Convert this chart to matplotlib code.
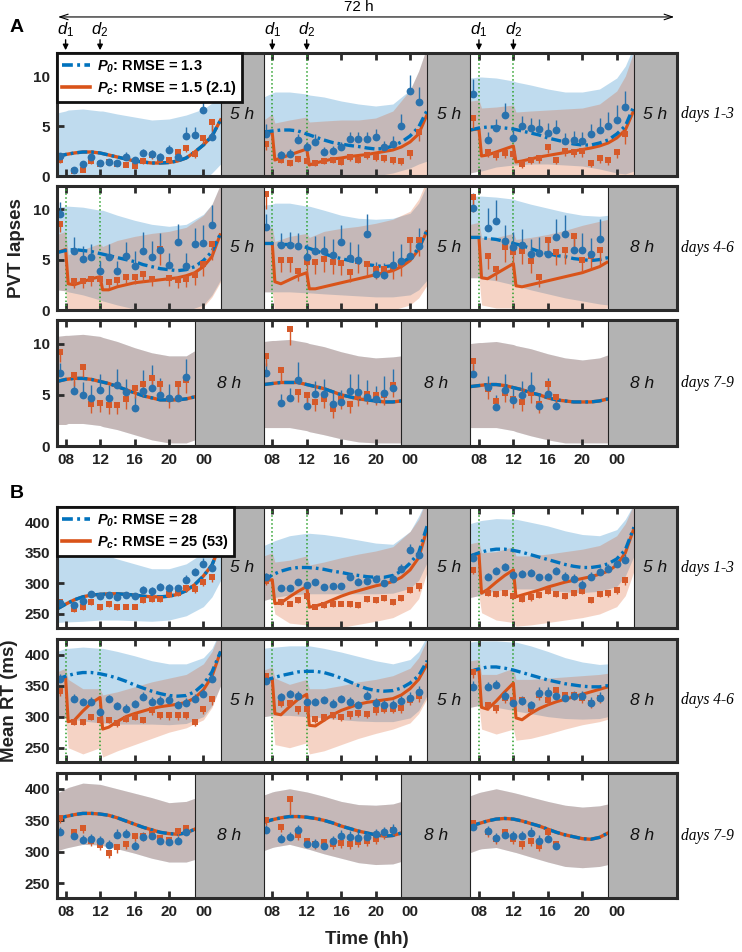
import numpy as np
import matplotlib
matplotlib.use("Agg")
from matplotlib import pyplot as plt
from matplotlib.lines import Line2D

plt.rcParams['font.family'] = ['Liberation Sans', 'DejaVu Sans']
plt.rcParams['mathtext.fontset'] = 'custom'
plt.rcParams['mathtext.rm'] = 'Liberation Sans'
plt.rcParams['mathtext.it'] = 'Liberation Sans:italic'
plt.rcParams['mathtext.bf'] = 'Liberation Sans:bold'
plt.rcParams['mathtext.bfit'] = 'Liberation Sans:bold:italic'

# ---------------- data ----------------
# hours after 07:00 wake-up
obs_hours = [0.3, 2, 3, 4, 5, 6, 7, 8, 9, 10, 11, 12, 13, 14, 15, 16, 17, 18]
model_hours = [0, 1, 2, 3, 4, 5, 6, 7, 8, 9, 10, 11, 12, 13, 14, 15, 16, 17, 18, 19]
pc_hours = [0, 1, 1.3, 2, 3, 4, 5, 5.3, 6, 7, 8, 9, 10, 11, 12, 13, 14, 15, 16, 17, 18, 19]
band_hours_5 = [0, 1, 1.3, 3, 5, 5.3, 7, 9, 11, 13, 15, 17, 18, 19]
band_hours_8 = [0, 1, 1.3, 3, 5, 5.3, 7, 9, 11, 13, 15, 16]
dose_hours = [1, 5]

sleep_hours = [5, 5, 5, 5, 5, 8, 8, 8, 8]
caffeine_day = [False, True, True, True, True, True, False, False, False]
xtick_labels = ['08', '12', '16', '20', '00']
row_labels = ['days 1-3', 'days 4-6', 'days 7-9']

# ---- panel A: PVT lapses ----
a_blue = [
    [2.0, 0.6, 1.2, 1.9, 1.3, 1.4, 1.3, 1.9, 1.6, 2.3, 2.2, 1.9, 2.6, 1.9, 4.0, 4.1, 6.6, 3.9],
    [4.2, 2.1, 2.2, 3.6, 2.9, 3.4, 2.4, 2.5, 2.9, 3.7, 3.7, 3.7, 3.9, 2.9, 3.2, 5.0, 8.5, 7.4],
    [8.2, 3.6, 4.8, 6.1, 3.8, 5.0, 4.8, 4.7, 4.3, 4.6, 3.5, 3.6, 3.5, 4.2, 4.6, 5.0, 5.6, 6.9],
    [9.5, 5.9, 5.1, 5.3, 3.9, 5.3, 3.9, 5.4, 4.4, 5.9, 5.3, 6.0, 4.5, 6.7, 4.4, 6.5, 6.6, 8.4],
    [8.2, 6.4, 6.4, 6.3, 5.3, 5.9, 5.9, 5.5, 6.7, 5.2, 5.0, 7.5, 3.6, 3.5, 4.5, 4.9, 5.4, 6.3],
    [10.1, 8.1, 8.8, 6.8, 6.2, 6.4, 5.6, 5.7, 5.6, 7.2, 7.5, 6.0, 6.0, 5.6, 7.0],
    [7.1, 5.4, 5.0, 4.7, 5.5, 4.7, 6.0, 5.3, 3.7, 5.4, 5.7, 5.0, 4.7, 4.7, 6.7],
    [7.1, 4.2, 4.7, 6.4, 3.9, 5.1, 5.1, 4.1, 4.3, 5.4, 5.3, 4.8, 4.6, 5.2, 5.7],
    [7.0, 5.8, 3.8, 5.5, 4.5, 5.0, 5.7, 3.9, 5.1, 3.9],
]
a_blue_err = [
    [0.3, 0.2, 0.3, 0.4, 0.3, 0.3, 0.3, 0.5, 0.3, 0.4, 0.4, 0.4, 0.5, 0.4, 0.9, 0.8, 1.9, 1.2],
    [1.0, 0.4, 0.5, 0.6, 0.5, 0.8, 0.5, 0.5, 0.5, 0.7, 0.7, 0.7, 0.8, 0.6, 0.8, 1.2, 1.6, 1.5],
    [1.5, 0.8, 0.9, 1.2, 0.9, 1.0, 1.0, 1.0, 1.0, 1.0, 0.8, 0.9, 0.9, 1.0, 1.2, 1.4, 1.5, 1.6],
    [1.2, 1.3, 1.2, 1.2, 1.0, 1.2, 1.0, 1.3, 1.5, 1.8, 1.5, 1.6, 1.2, 1.8, 1.3, 1.6, 1.8, 2.0],
    [1.3, 1.2, 1.3, 1.3, 1.2, 1.4, 1.4, 1.5, 1.7, 1.5, 1.5, 2.0, 1.2, 1.2, 1.4, 1.6, 1.7, 1.8],
    [1.5, 2.0, 2.1, 1.6, 1.5, 1.6, 1.4, 1.5, 1.5, 1.8, 1.9, 1.6, 1.6, 1.5, 2.0],
    [1.0, 0.9, 1.2, 1.3, 1.5, 1.3, 1.5, 1.2, 1.2, 2.0, 2.2, 1.6, 1.4, 1.3, 1.8],
    [1.0, 0.9, 1.0, 1.8, 1.0, 1.2, 1.4, 1.2, 1.2, 1.6, 1.7, 1.6, 1.3, 1.6, 1.8],
    [1.0, 1.0, 1.2, 1.5, 1.3, 1.3, 1.5, 1.2, 1.5, 1.0],
]
a_orange = [
    [1.6, 0.5, 0.6, 1.5, 1.2, 1.4, 1.2, 1.1, 1.0, 1.5, 2.1, 1.6, 1.6, 2.4, 2.8, 2.2, 3.8, 5.4],
    [3.2, 1.6, 1.3, 1.7, 1.5, 1.3, 1.5, 1.6, 1.4, 1.9, 1.6, 2.1, 1.9, 1.8, 1.6, 1.5, 2.3, 4.4],
    [5.8, 2.4, 2.1, 2.3, 2.2, 1.2, 1.6, 1.8, 2.9, 1.6, 2.5, 2.4, 2.5, 1.3, 1.8, 1.6, 2.4, 4.2],
    [8.5, 2.9, 2.9, 3.1, 3.1, 2.8, 3.0, 3.3, 3.3, 3.6, 3.1, 6.1, 3.2, 3.0, 3.1, 3.5, 4.6, 6.5],
    [11.5, 5.0, 5.0, 3.9, 4.8, 4.8, 5.1, 4.8, 4.7, 3.8, 4.9, 4.6, 4.1, 4.1, 4.3, 4.6, 6.9, 6.9],
    [11.2, 5.4, 4.1, 6.2, 5.8, 5.9, 4.9, 3.3, 6.9, 5.8, 6.0, 7.3, 5.0, 5.4, 6.0],
    [9.2, 6.9, 7.7, 4.1, 4.2, 4.0, 4.0, 4.6, 5.7, 6.1, 6.6, 6.1, 4.6, 6.1, 6.4],
    [8.8, 7.4, 11.4, 5.3, 5.0, 4.3, 4.6, 3.6, 4.6, 4.1, 4.9, 5.1, 5.0, 5.0, 6.0],
    [8.3, 5.6, 4.4, 5.2, 4.6, 4.3, 5.2, 4.1, 6.1, 4.8],
]
a_orange_err = [
    [0.3, 0.2, 0.2, 0.3, 0.2, 0.3, 0.2, 0.2, 0.2, 0.3, 0.4, 0.3, 0.3, 0.5, 0.4, 0.4, 0.6, 0.9],
    [0.6, 0.3, 0.3, 0.3, 0.3, 0.3, 0.3, 0.3, 0.3, 0.4, 0.3, 0.4, 0.4, 0.4, 0.4, 0.4, 0.6, 0.9],
    [1.0, 0.5, 0.5, 0.5, 0.5, 0.4, 0.4, 0.5, 0.6, 0.4, 0.5, 0.5, 0.6, 0.4, 0.5, 0.5, 0.6, 1.0],
    [0.8, 0.7, 0.7, 0.7, 0.6, 0.7, 0.6, 0.7, 0.7, 0.8, 0.7, 1.6, 0.8, 0.8, 0.8, 1.0, 1.2, 1.5],
    [1.5, 1.2, 1.2, 1.0, 1.2, 1.2, 1.3, 1.2, 1.2, 1.0, 1.2, 1.2, 1.0, 1.0, 1.2, 1.2, 1.5, 1.5],
    [1.5, 1.3, 1.1, 1.4, 1.3, 1.3, 1.2, 1.0, 1.5, 1.3, 1.4, 1.5, 1.2, 1.3, 1.5],
    [1.0, 1.0, 1.0, 0.9, 0.9, 0.9, 0.9, 1.0, 1.0, 1.2, 1.2, 1.1, 0.9, 1.1, 1.2],
    [1.0, 1.2, 1.5, 1.0, 1.0, 0.9, 0.9, 0.9, 1.0, 0.9, 1.0, 1.0, 1.0, 1.0, 1.2],
    [1.0, 1.0, 0.9, 0.9, 0.9, 0.9, 1.0, 0.9, 1.0, 0.9],
]
a_p0 = [
    [1.95, 2.15, 2.3, 2.4, 2.4, 2.3, 2.1, 1.9, 1.7, 1.5, 1.4, 1.3, 1.3, 1.35, 1.5, 1.8, 2.4, 3.1, 4.0, 5.6],
    [4.4, 4.5, 4.6, 4.6, 4.5, 4.2, 3.9, 3.6, 3.35, 3.2, 3.05, 2.95, 2.8, 2.7, 2.75, 3.0, 3.4, 4.0, 4.9, 6.6],
    [4.6, 4.8, 4.9, 4.9, 4.8, 4.7, 4.5, 4.3, 4.1, 3.8, 3.6, 3.4, 3.2, 3.1, 3.1, 3.3, 3.6, 4.2, 5.0, 7.0],
    [5.7, 5.9, 6.0, 5.9, 5.8, 5.6, 5.4, 5.2, 5.0, 4.8, 4.5, 4.3, 4.1, 4.0, 3.9, 4.0, 4.3, 4.9, 5.8, 7.6],
    [6.6, 6.6, 6.5, 6.5, 6.4, 6.2, 5.9, 5.6, 5.3, 5.1, 4.9, 4.7, 4.5, 4.4, 4.3, 4.4, 4.7, 5.2, 6.1, 8.0],
    [7.2, 7.2, 7.1, 7.0, 6.8, 6.6, 6.4, 6.1, 5.8, 5.6, 5.4, 5.3, 5.1, 5.0, 4.9, 5.0, 5.2],
    [6.3, 6.5, 6.6, 6.6, 6.5, 6.3, 6.1, 5.8, 5.5, 5.2, 4.9, 4.7, 4.5, 4.5, 4.5, 4.6, 4.8],
    [6.0, 6.1, 6.2, 6.2, 6.2, 6.0, 5.8, 5.6, 5.3, 5.0, 4.8, 4.6, 4.5, 4.4, 4.3, 4.3, 4.4],
    [5.8, 5.9, 6.0, 6.0, 5.9, 5.7, 5.5, 5.2, 5.0, 4.7, 4.5, 4.4, 4.3, 4.3, 4.3, 4.4, 4.6],
]
a_pc = [
    None,
    [4.4, 4.3, 1.6, 1.8, 2.1, 2.4, 2.7, 1.1, 1.3, 1.5, 1.7, 1.8, 1.95, 2.05, 2.15, 2.3, 2.45, 2.6, 2.9, 3.4, 4.2, 6.2],
    [4.6, 4.7, 2.0, 2.1, 2.4, 2.7, 3.0, 1.4, 1.5, 1.7, 1.9, 2.05, 2.2, 2.35, 2.5, 2.65, 2.8, 3.0, 3.3, 3.8, 4.6, 6.6],
    [5.7, 6.0, 2.6, 2.5, 2.8, 3.1, 3.3, 2.0, 2.0, 2.3, 2.5, 2.7, 2.8, 2.9, 3.0, 3.1, 3.2, 3.4, 3.7, 4.3, 5.3, 7.6],
    [6.6, 6.6, 2.8, 2.6, 3.0, 3.4, 3.7, 2.1, 2.1, 2.3, 2.5, 2.7, 2.9, 3.1, 3.3, 3.5, 3.7, 3.9, 4.3, 4.9, 6.0, 7.9],
    [7.2, 7.2, 3.2, 3.1, 3.6, 4.1, 4.6, 2.4, 2.3, 2.5, 2.7, 2.9, 3.1, 3.3, 3.5, 3.7, 4.0, 4.3, 4.8],
    None, None, None,
]
a_p0_hi = [
    [6.3, 6.5, 6.6, 6.7, 6.5, 6.5, 6.2, 5.9, 5.6, 5.7, 6.1, 6.7, 7.3, 8.0],
    [7.9, 8.3, 8.4, 8.4, 8.2, 8.1, 7.9, 7.5, 7.2, 7.0, 7.2, 8.6, 10.5, 13.0],
    [9.8, 9.9, 9.9, 9.8, 9.5, 9.4, 9.1, 8.7, 8.4, 8.4, 8.7, 9.8, 11.0, 13.0],
    [10.2, 10.3, 10.3, 10.2, 9.9, 9.9, 9.4, 8.9, 8.5, 8.3, 8.5, 9.5, 10.5, 12.5],
    [10.4, 10.5, 10.6, 10.6, 10.3, 10.3, 9.9, 9.4, 9.1, 9.0, 9.1, 9.6, 10.6, 12.5],
    [11.3, 11.3, 11.3, 11.2, 11.0, 10.9, 10.5, 10.1, 9.7, 9.4, 9.3, 9.4],
    [10.7, 10.8, 10.8, 10.9, 10.7, 10.6, 10.2, 9.6, 9.1, 8.8, 8.8, 9.3],
    [10.2, 10.3, 10.3, 10.4, 10.1, 10.0, 9.7, 9.2, 8.8, 8.6, 8.7, 8.8],
    [10.0, 10.1, 10.1, 10.2, 9.9, 9.8, 9.5, 9.0, 8.6, 8.4, 8.6, 8.9],
]
a_p0_lo = [
    [-2, -2, -2, -2, -2, -2, -2, -2, -2, -2, -1.5, -0.5, 0.3, 1.2],
    [-0.5, -0.5, -0.5, -0.4, -0.3, -0.3, -0.3, -0.2, -0.1, 0.0, 0.3, 0.8, 1.2, 1.5],
    [0.3, 0.5, 0.5, 0.9, 1.1, 1.1, 1.2, 1.2, 1.1, 1.0, 0.7, 0.3, 0.2, 0.5],
    [2.0, 1.9, 1.8, 1.5, 1.0, 0.9, 0.5, 0.1, -0.2, -0.2, -0.1, 0.5, 1.5, 3.0],
    [1.8, 1.8, 1.8, 1.8, 1.7, 1.7, 1.6, 1.5, 1.4, 1.3, 1.3, 1.5, 2.0, 3.0],
    [3.2, 3.2, 3.1, 2.9, 2.5, 2.4, 2.0, 1.6, 1.2, 0.9, 0.6, 0.5],
    [2.1, 2.1, 2.2, 2.2, 2.0, 1.9, 1.6, 1.1, 0.6, 0.3, 0.3, 0.6],
    [1.8, 1.8, 1.8, 1.8, 1.5, 1.4, 1.1, 0.7, 0.4, 0.3, 0.3, 0.3],
    [1.8, 1.8, 1.8, 1.8, 1.5, 1.4, 1.0, 0.6, 0.3, 0.3, 0.3, 0.3],
]
a_pc_hi = [
    None,
    [5.6, 6.2, 5.3, 5.6, 5.9, 5.4, 5.5, 5.6, 5.6, 5.8, 6.5, 8.6, 10.5, 13.0],
    [7.5, 7.6, 6.8, 6.9, 7.1, 6.4, 6.5, 6.6, 6.7, 6.8, 7.2, 8.5, 10.0, 12.5],
    [7.5, 7.8, 5.5, 6.0, 6.6, 6.3, 6.9, 7.3, 7.6, 7.8, 8.2, 9.4, 10.5, 12.5],
    [8.0, 8.2, 6.8, 7.3, 7.6, 7.2, 7.8, 8.1, 8.3, 8.6, 9.0, 9.8, 11.0, 13.0],
    [8.5, 8.7, 7.2, 7.2, 7.6, 7.0, 7.2, 7.5, 7.9, 8.4, 8.8, 9.0],
    None, None, None,
]
a_pc_lo = [
    None,
    [-0.5, -0.5, -2.0, -2.0, -2.0, -2.5, -2.5, -2.5, -2.3, -2.0, -1.5, -1.0, -0.5, 0.0],
    [0.3, 0.5, -1.5, -2.0, -2.0, -2.5, -2.5, -2.3, -2.0, -1.8, -1.5, -1.0, -0.5, 0.0],
    [2.0, 1.9, -0.5, -0.8, -0.8, -1.5, -1.5, -1.3, -1.1, -0.9, -0.5, 0.3, 1.3, 2.8],
    [1.8, 1.8, -0.5, -0.8, -0.8, -1.5, -1.3, -1.0, -0.7, -0.4, 0.0, 0.5, 1.2, 2.5],
    [3.2, 3.2, 0.5, 0.2, 0.2, -0.5, -0.5, -0.3, -0.2, 0.0, 0.1, 0.2],
    None, None, None,
]

# ---- panel B: mean RT (ms) ----
b_blue = [
    [268, 265, 272, 282, 279, 281, 277, 281, 279, 290, 288, 294, 293, 292, 306, 318, 332, 325],
    [311, 293, 292, 302, 297, 302, 294, 296, 295, 310, 303, 304, 307, 300, 308, 324, 354, 346],
    [342, 311, 321, 327, 314, 316, 317, 310, 311, 320, 311, 308, 298, 311, 318, 324, 331, 339],
    [360, 329, 323, 324, 308, 328, 317, 313, 320, 331, 324, 326, 327, 318, 322, 328, 336, 360],
    [358, 331, 336, 334, 323, 323, 327, 321, 328, 323, 318, 334, 322, 319, 319, 325, 330, 340],
    [348, 348, 351, 334, 322, 326, 318, 338, 338, 333, 330, 333, 333, 322, 330],
    [332, 325, 319, 320, 318, 311, 327, 328, 310, 323, 326, 318, 315, 317, 331],
    [335, 320, 323, 334, 312, 312, 310, 318, 326, 324, 322, 323, 328, 331, 335],
    [340, 333, 322, 327, 325, 325, 330, 318, 320, 309],
]
b_blue_err = [
    [5, 5, 5, 6, 5, 5, 5, 5, 5, 6, 6, 6, 6, 6, 7, 8, 10, 9],
    [6, 5, 5, 6, 5, 6, 5, 5, 5, 6, 6, 6, 7, 6, 7, 8, 10, 9],
    [8, 6, 6, 7, 6, 6, 6, 6, 6, 7, 7, 7, 7, 7, 7, 8, 8, 9],
    [8, 7, 7, 7, 6, 7, 7, 7, 7, 8, 8, 8, 8, 8, 8, 8, 9, 10],
    [8, 7, 7, 7, 6, 7, 7, 7, 7, 8, 8, 8, 8, 8, 8, 8, 9, 10],
    [9, 8, 8, 8, 8, 8, 8, 9, 9, 9, 9, 9, 9, 9, 9],
    [8, 8, 8, 8, 8, 8, 9, 9, 8, 9, 9, 9, 9, 9, 10],
    [8, 8, 8, 8, 8, 8, 8, 8, 9, 9, 9, 9, 9, 9, 10],
    [8, 8, 8, 8, 8, 8, 9, 9, 9, 9],
]
b_orange = [
    [270, 258, 261, 269, 261, 266, 261, 262, 262, 273, 274, 274, 283, 285, 292, 291, 303, 310],
    [304, 269, 267, 273, 280, 262, 264, 266, 267, 266, 264, 274, 273, 276, 269, 276, 290, 295],
    [322, 285, 283, 285, 280, 275, 277, 281, 288, 283, 279, 285, 287, 273, 282, 284, 289, 305],
    [342, 292, 292, 300, 295, 295, 290, 297, 300, 295, 310, 303, 302, 302, 303, 292, 312, 328],
    [365, 322, 322, 312, 312, 296, 300, 303, 300, 304, 306, 305, 310, 313, 313, 314, 327, 333],
    [372, 319, 314, 330, 327, 327, 312, 335, 327, 343, 335, 335, 330, 322, 330],
    [354, 332, 338, 318, 311, 299, 307, 312, 326, 326, 328, 322, 319, 333, 338],
    [351, 339, 384, 327, 318, 313, 315, 312, 314, 312, 315, 318, 320, 328, 335],
    [346, 331, 320, 331, 320, 312, 318, 310, 331, 313],
]
b_orange_err = [
    [5, 4, 4, 5, 4, 4, 4, 4, 4, 5, 5, 5, 5, 5, 6, 6, 7, 8],
    [6, 4, 4, 5, 5, 4, 4, 4, 4, 5, 5, 5, 5, 5, 5, 5, 6, 7],
    [7, 5, 5, 5, 5, 5, 5, 5, 5, 5, 5, 5, 5, 5, 5, 6, 6, 7],
    [8, 6, 6, 6, 6, 6, 6, 6, 6, 6, 7, 7, 7, 7, 7, 7, 8, 9],
    [9, 7, 7, 7, 7, 7, 7, 7, 7, 7, 7, 7, 7, 7, 7, 8, 8, 9],
    [9, 8, 8, 8, 8, 8, 8, 8, 8, 8, 8, 8, 8, 8, 8],
    [8, 8, 8, 8, 8, 8, 8, 8, 8, 8, 8, 8, 8, 8, 8],
    [8, 8, 25, 8, 8, 8, 8, 8, 8, 8, 8, 8, 8, 8, 8],
    [8, 8, 8, 8, 8, 8, 8, 8, 8, 8],
]
b_p0 = [
    [258, 266, 273, 278, 281, 282, 283, 283, 282, 281, 279, 278, 278, 279, 282, 288, 298, 312, 330, 365],
    [304, 314, 320, 324, 326, 326, 325, 323, 320, 318, 315, 313, 311, 310, 310, 313, 320, 333, 350, 395],
    [345, 350, 354, 356, 356, 354, 351, 347, 343, 339, 335, 331, 328, 326, 326, 328, 332, 340, 355, 392],
    [360, 365, 369, 371, 371, 369, 366, 362, 357, 351, 346, 341, 337, 334, 333, 334, 340, 352, 372, 405],
    [358, 362, 366, 369, 372, 373, 373, 371, 367, 362, 356, 350, 345, 342, 341, 342, 346, 354, 366, 390],
    [373, 377, 380, 380, 378, 375, 371, 367, 363, 359, 356, 353, 351, 349, 348, 348, 350],
    [352, 356, 359, 361, 361, 360, 358, 354, 349, 344, 339, 335, 331, 329, 328, 330, 336],
    [347, 351, 354, 356, 356, 355, 353, 350, 346, 341, 337, 333, 330, 327, 325, 326, 330],
    [341, 345, 349, 352, 353, 352, 349, 345, 341, 336, 331, 327, 324, 321, 320, 323, 330],
]
b_pc = [
    None,
    [304, 306, 267, 268, 278, 287, 295, 261, 263, 267, 273, 279, 284, 288, 292, 296, 299, 303, 310, 322, 342, 390],
    [345, 349, 284, 290, 302, 313, 322, 278, 281, 285, 289, 294, 298, 302, 305, 308, 311, 315, 320, 330, 350, 390],
    [360, 363, 292, 294, 309, 322, 331, 280, 283, 292, 300, 305, 309, 313, 316, 318, 320, 323, 330, 343, 365, 405],
    [358, 361, 305, 303, 316, 328, 336, 286, 285, 294, 303, 310, 315, 320, 323, 325, 327, 329, 335, 345, 360, 385],
    [373, 376, 315, 312, 325, 340, 354, 298, 295, 305, 313, 319, 324, 328, 332, 336, 340, 344, 348],
    None, None, None,
]
b_p0_hi = [
    [345, 348, 349, 350, 348, 348, 340, 332, 324, 324, 332, 350, 362, 385],
    [362, 368, 370, 378, 382, 382, 380, 376, 371, 366, 364, 385, 410, 440],
    [398, 402, 403, 406, 405, 405, 400, 394, 386, 380, 378, 388, 405, 430],
    [405, 410, 410, 412, 410, 410, 405, 398, 390, 385, 385, 395, 410, 440],
    [410, 412, 412, 414, 414, 414, 410, 404, 397, 390, 385, 392, 405, 430],
    [420, 422, 422, 422, 420, 420, 414, 405, 395, 388, 384, 385],
    [393, 400, 402, 409, 407, 406, 400, 393, 386, 378, 380, 385],
    [390, 395, 396, 400, 395, 394, 388, 380, 375, 374, 376, 380],
    [389, 394, 395, 400, 394, 393, 387, 380, 374, 371, 373, 376],
]
b_p0_lo = [
    [236, 237, 237, 238, 240, 240, 240, 239, 238, 240, 247, 262, 278, 305],
    [272, 276, 277, 281, 283, 283, 283, 283, 283, 283, 284, 292, 305, 335],
    [277, 280, 282, 288, 291, 291, 291, 289, 286, 285, 287, 295, 312, 345],
    [300, 298, 297, 293, 290, 290, 288, 288, 288, 287, 289, 300, 318, 350],
    [300, 302, 302, 302, 300, 300, 298, 295, 293, 292, 292, 298, 310, 335],
    [315, 318, 318, 315, 310, 309, 305, 300, 297, 296, 297, 300],
    [302, 306, 307, 312, 311, 310, 305, 298, 290, 284, 284, 288],
    [302, 307, 308, 312, 305, 304, 297, 290, 283, 280, 281, 285],
    [299, 304, 305, 307, 300, 299, 292, 284, 277, 275, 277, 280],
]
b_pc_hi = [
    None,
    [345, 350, 335, 338, 345, 330, 335, 342, 348, 353, 360, 385, 405, 440],
    [365, 368, 350, 352, 360, 345, 345, 348, 352, 356, 362, 378, 398, 430],
    [372, 378, 360, 345, 345, 335, 340, 348, 356, 362, 368, 385, 405, 440],
    [375, 380, 362, 352, 360, 345, 345, 350, 356, 360, 366, 378, 395, 425],
    [390, 392, 368, 368, 378, 360, 360, 362, 364, 366, 368, 370],
    None, None, None,
]
b_pc_lo = [
    None,
    [272, 276, 250, 235, 232, 225, 225, 228, 233, 238, 244, 258, 275, 320],
    [277, 280, 252, 240, 236, 230, 232, 236, 240, 244, 250, 262, 280, 320],
    [300, 298, 250, 240, 250, 235, 245, 255, 265, 275, 282, 295, 315, 350],
    [300, 302, 255, 250, 258, 240, 245, 255, 265, 273, 280, 290, 305, 330],
    [315, 318, 280, 272, 280, 262, 265, 272, 280, 287, 292, 296],
    None, None, None,
]

# ---------------- style ----------------
BLUE = '#0072BD'
ORANGE = '#D95319'
BLUE_PT = '#2a72ad'
ORANGE_PT = '#d65a2a'
SLEEP_GRAY = '#b3b3b3'
SPINE = '#2b2b2b'

fig = plt.figure(figsize=(7.42, 9.52), dpi=100)
H = 952.0
W = 742.0
left = 57 / W
width = 620 / W
rows_px = [(53, 176), (186, 310), (320, 446), (507, 628), (639, 762), (773, 898)]
axs = []
for top, bot in rows_px:
    axs.append(fig.add_axes([left, 1 - bot / H, width, (bot - top) / H]))
axes_a = axs[:3]
axes_b = axs[3:]

xticks = [d * 24 + h for d in range(3) for h in [1, 5, 9, 13, 17]]


def style_axis(ax, ylim, yticks, bottom_labels):
    ax.set_xlim(0, 72)
    ax.set_ylim(*ylim)
    ax.set_xticks(xticks)
    ax.set_xticklabels(xtick_labels * 3)
    ax.set_yticks(yticks)
    ax.tick_params(axis='both', direction='in', top=True, right=True,
                   length=5, width=2, color=SPINE, labelsize=11, pad=5)
    ax.tick_params(axis='x', labelbottom=bottom_labels)
    for lab in ax.get_xticklabels() + ax.get_yticklabels():
        lab.set_fontweight('bold')
        lab.set_color('#222222')
    for sp in ax.spines.values():
        sp.set_linewidth(2.2)
        sp.set_color(SPINE)
        sp.set_zorder(20)


def draw_panel(axes, blue, blue_err, orange, orange_err, p0, pc,
               p0_lo, p0_hi, pc_lo, pc_hi):
    for i in range(9):
        ax = axes[i // 3]
        off = 24 * (i % 3)
        sleep = sleep_hours[i]
        awake = 24 - sleep
        mt = [off + h for h in model_hours if h <= awake]
        bh = band_hours_5 if awake == 19 else band_hours_8
        bt = [off + h for h in bh]

        # prediction bands
        ax.fill_between(bt, p0_lo[i], p0_hi[i], color=BLUE, alpha=0.25, lw=0, zorder=1)
        if pc_hi[i] is not None:
            ax.fill_between(bt, pc_lo[i], pc_hi[i], color=ORANGE, alpha=0.25, lw=0, zorder=1)
        elif i > 0:
            ax.fill_between(bt, p0_lo[i], p0_hi[i], color=ORANGE, alpha=0.25, lw=0, zorder=1)

        # caffeine doses
        if caffeine_day[i]:
            for h in dose_hours:
                ax.axvline(off + h, color='#2ca02c', lw=1.1, ls=(0, (1, 1.6)), zorder=2)

        # model lines
        if pc[i] is not None:
            ct = [off + h for h in pc_hours if h <= awake]
            ax.plot(ct, pc[i], color=ORANGE, lw=2.2, zorder=3, solid_capstyle='butt')
        else:
            ax.plot(mt, p0[i], color=ORANGE, lw=2.4, zorder=3)
        ax.plot(mt, p0[i], color=BLUE, lw=2.4, ls=(0, (3.0, 1.2, 0.8, 1.2)), zorder=3.5)

        # observations
        ot = [off + h for h in obs_hours[:len(blue[i])]]
        bv = np.array(blue[i])
        ov = np.array(orange[i])
        ax.vlines(ot, bv, bv + np.array(blue_err[i]), color=BLUE_PT, lw=1.0, zorder=4)
        ax.vlines(ot, ov - np.array(orange_err[i]), ov, color=ORANGE_PT, lw=1.0, zorder=4)
        ax.plot(ot, ov, 's', color=ORANGE_PT, ms=4.6, mew=0, zorder=5)
        ax.plot(ot, bv, 'o', color=BLUE_PT, ms=5.6, mew=0, zorder=5)

        # sleep period
        ax.axvspan(off + awake, off + 24, color=SLEEP_GRAY, lw=0, zorder=6)
        ax.axvline(off + awake, color='#222222', lw=0.8, zorder=6.5)
        ax.axvline(off + 24, color='#222222', lw=0.8, zorder=6.5)
        ax.text(off + awake + sleep / 2, 0.5, f'{sleep} h', transform=ax.get_xaxis_transform(),
                ha='center', va='center', fontsize=12.5, fontstyle='italic', color='#111111', zorder=7)


draw_panel(axes_a, a_blue, a_blue_err, a_orange, a_orange_err, a_p0, a_pc,
           a_p0_lo, a_p0_hi, a_pc_lo, a_pc_hi)
draw_panel(axes_b, b_blue, b_blue_err, b_orange, b_orange_err, b_p0, b_pc,
           b_p0_lo, b_p0_hi, b_pc_lo, b_pc_hi)

for k, ax in enumerate(axes_a):
    style_axis(ax, (0, 12.3), [0, 5, 10], k == 2)
for k, ax in enumerate(axes_b):
    style_axis(ax, (227, 425), [250, 300, 350, 400], k == 2)

for ax, lab in zip(axes_a + axes_b, row_labels + row_labels):
    ax.text(1.006, 0.5, lab, transform=ax.transAxes, ha='left', va='center',
            family='Liberation Serif', fontstyle='italic', fontsize=11.2)

# legends
legend_a = [r'$\mathbfit{P}_{\mathbfit{0}}$: RMSE = 1.3', r'$\mathbfit{P}_{\mathbfit{c}}$: RMSE = 1.5 (2.1)']
legend_b = [r'$\mathbfit{P}_{\mathbfit{0}}$: RMSE = 28', r'$\mathbfit{P}_{\mathbfit{c}}$: RMSE = 25 (53)']
for ax, labels in [(axes_a[0], legend_a), (axes_b[0], legend_b)]:
    handles = [Line2D([], [], color=BLUE, lw=2.6, ls=(0, (3.0, 1.2, 0.8, 1.2))),
               Line2D([], [], color=ORANGE, lw=2.6)]
    leg = ax.legend(handles, labels, loc='upper left', bbox_to_anchor=(0, 1),
                    borderaxespad=0, fancybox=False, framealpha=1, edgecolor='#111111',
                    prop={'weight': 'bold', 'size': 10.5}, handlelength=1.9,
                    handletextpad=0.5, borderpad=0.35, labelspacing=0.3)
    leg.get_frame().set_linewidth(2.0)
    leg.set_zorder(30)

# dose arrows above panel A
ax0 = axes_a[0]
for d in range(3):
    for h, name in zip(dose_hours, [r'$d_1$', r'$d_2$']):
        x = 24 * d + h
        ax0.annotate('', xy=(x, 1.0), xytext=(x, 1.13),
                     xycoords=('data', 'axes fraction'), textcoords=('data', 'axes fraction'),
                     arrowprops=dict(arrowstyle='-|>', color='black', lw=1.0, mutation_scale=8),
                     annotation_clip=False)
        ax0.text(x, 1.19, name, transform=ax0.get_xaxis_transform(), ha='center', va='center',
                 fontsize=12)

ax0.annotate('', xy=(72, 1.293), xytext=(-0.2, 1.293),
             xycoords=('data', 'axes fraction'), textcoords=('data', 'axes fraction'),
             arrowprops=dict(arrowstyle='<->, head_length=0.6, head_width=0.2', color='black', lw=0.8),
             annotation_clip=False)
ax0.text(35.0, 1.37, '72 h', transform=ax0.get_xaxis_transform(), ha='center', va='center',
         fontsize=11)

fig.text(17 / W, 1 - 27 / H, 'A', fontsize=14, fontweight='bold', ha='center', va='center')
fig.text(17 / W, 1 - 493 / H, 'B', fontsize=14, fontweight='bold', ha='center', va='center')
fig.text(17 / W, 1 - 248 / H, 'PVT lapses', rotation=90, fontsize=13.5, fontweight='bold',
         ha='center', va='center', color='#222222')
fig.text(10 / W, 1 - 701 / H, 'Mean RT (ms)', rotation=90, fontsize=13.5, fontweight='bold',
         ha='center', va='center', color='#222222')
fig.text(367 / W, 1 - 940 / H, 'Time (hh)', fontsize=13.5, fontweight='bold',
         ha='center', va='center', color='#222222')

fig.savefig('out.png', dpi=100)
